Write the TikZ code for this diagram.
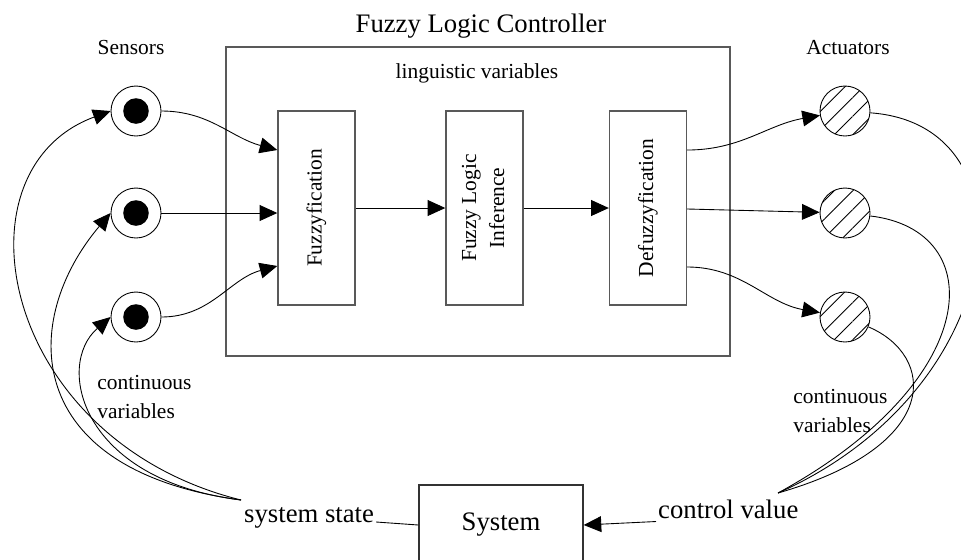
\documentclass[tikz,border=0pt]{standalone}
\usepackage{fontspec}
\setmainfont{Liberation Serif}
\usepackage{tikz}
\usetikzlibrary{arrows.meta,patterns.meta}

\begin{document}
\begin{tikzpicture}[x=0.02cm,y=-0.02cm,->,>={Triangle[length=10pt,width=9pt]},line width=0.5pt,
    big/.style={font=\fontsize{15.2}{18}\selectfont},
    small/.style={font=\fontsize{12.2}{16}\selectfont},
    block/.style={rectangle,draw=black!65,line width=0.8pt,minimum width=1.54cm,minimum height=3.88cm,inner sep=0pt,small},
    sensor/.style={circle,draw,minimum size=1cm,inner sep=0pt,
      path picture={\fill (path picture bounding box.center) circle (0.256cm);}},
    actuator/.style={circle,draw,minimum size=1cm,inner sep=0pt,
      pattern={Lines[angle=45,distance=7.5pt,line width=0.5pt]}}]
    \useasboundingbox (0,0) rectangle (961,559);

    \node[big,anchor=base] (title) at (481,32) {Fuzzy Logic Controller};
    \node[draw=black!65,line width=0.8pt,minimum width=10.08cm,minimum height=6.18cm] (flc) at (478,201.5) {};
    \node[small,anchor=base] (ling) at (477,78) {linguistic variables};

    \node[block] (fuzz) at (316.5,208) {\rotatebox{90}{Fuzzyfication}};
    \node[block] (infer) at (484.5,208) {\rotatebox{90}{\begin{tabular}{@{}c@{}}Fuzzy Logic\\Inference\end{tabular}}};
    \node[block] (defuzz) at (648,208) {\rotatebox{90}{Defuzzyfication}};

    % sensors and actuators
    \node[small,anchor=base] (sens) at (131,54) {Sensors};
    \node[small,anchor=base] (act) at (848,54) {Actuators};
    \node[sensor] (s1) at (136,111) {};
    \node[sensor] (s2) at (136,213) {};
    \node[sensor] (s3) at (136,317) {};
    \node[actuator] (a1) at (845,111) {};
    \node[actuator] (a2) at (845,213) {};
    \node[actuator] (a3) at (845,317) {};
    \node[small,align=left] (cvl) at (144.5,397) {continuous\\variables};
    \node[small,align=left] (cvr) at (840.5,411) {continuous\\variables};

    % plant
    \node[draw=black!80,line width=0.8pt,minimum width=3.28cm,minimum height=1.6cm,big] (sys) at (501,525) {System};
    \node[big,anchor=base west,inner sep=1pt] (state) at (242,522) {system state};
    \node[big,anchor=base west,inner sep=1pt] (cv) at (656,518) {control value};
    \coordinate (sstop) at (241,500);
    \coordinate (cvtop) at (778,493);

    \draw (s1) to[out=0,in=165] ([yshift=1.16cm]fuzz.west);
    \draw (s2) -- (s2 -| fuzz.west);
    \draw (s3) to[out=0,in=195] ([yshift=-1.16cm]fuzz.west);
    \draw (fuzz) -- (infer);
    \draw (infer) -- (defuzz);
    \draw ([yshift=1.16cm]defuzz.east) to[out=0,in=190] (a1);
    \draw (defuzz) -- (a2);
    \draw ([yshift=-1.18cm]defuzz.east) to[out=0,in=170] (a3);

    % feedback loop
    \draw (sstop) .. controls (0,440) and (-50,170) .. (s1.west);
    \draw (sstop) .. controls (20,470) and (20,320) .. (s2.west);
    \draw (sstop) .. controls (80,480) and (55,365) .. (s3.west);
    \draw[-] (a1) .. controls (1040,125) and (1010,390) .. (cvtop);
    \draw[-] (a2) .. controls (990,230) and (985,380) .. (cvtop);
    \draw[-] (a3) .. controls (935,355) and (945,445) .. (cvtop);
    \draw[-] (state.base east) -- (sys.west);
    \draw ([yshift=-2pt]cv.base west) -- (sys.east);
\end{tikzpicture}
\end{document}
